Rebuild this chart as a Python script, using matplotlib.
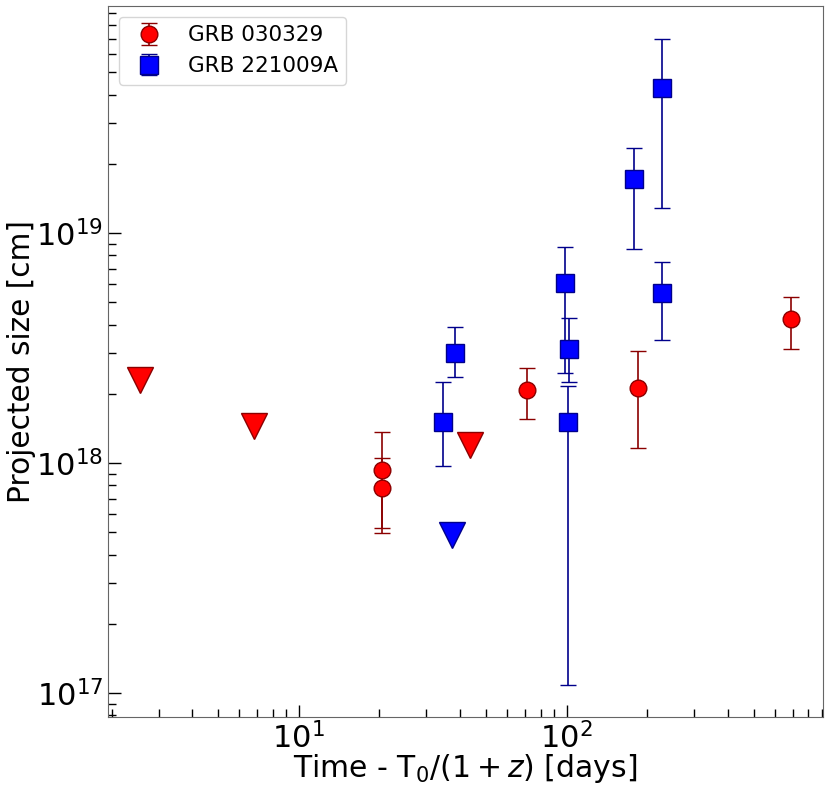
import numpy as np
import matplotlib
matplotlib.use("Agg")
import matplotlib.pyplot as plt

# GRB 030329 measurements (days, cm)
t_030329 = np.array([20.5, 20.5, 71, 185, 690])
r_030329 = np.array([9.3e17, 7.8e17, 2.07e18, 2.11e18, 4.22e18])
lo_030329 = np.array([5.2e17, 4.95e17, 1.55e18, 1.16e18, 3.13e18])
hi_030329 = np.array([1.37e18, 1.05e18, 2.59e18, 3.08e18, 5.28e18])

# GRB 030329 upper limits
t_030329_ul = np.array([2.56, 6.82, 43.6])
r_030329_ul = np.array([2.29e18, 1.445e18, 1.20e18])

# GRB 221009A measurements
t_221009 = np.array([34.6, 38.2, 99, 102.4, 101.6, 178, 228, 228])
r_221009 = np.array([1.51e18, 3.0e18, 6.04e18, 3.12e18, 1.51e18, 1.71e19, 4.26e19, 5.47e18])
lo_221009 = np.array([9.7e17, 2.37e18, 2.47e18, 2.25e18, 1.09e17, 8.55e18, 1.28e19, 3.43e18])
hi_221009 = np.array([2.25e18, 3.9e18, 8.7e18, 4.28e18, 2.16e18, 2.35e19, 7.0e19, 7.5e18])

# GRB 221009A upper limit
t_221009_ul = np.array([37.3])
r_221009_ul = np.array([4.85e17])

fig = plt.figure(figsize=(8.3, 7.89), dpi=100)
ax = fig.add_axes([108/830, 1 - 716.7/789, (822.7 - 108)/830, (716.7 - 6)/789])

ax.errorbar(t_030329, r_030329, yerr=[r_030329 - lo_030329, hi_030329 - r_030329],
            fmt='o', color='red', mec='darkred', mew=1, ms=12, ecolor='darkred',
            elinewidth=1.2, capsize=6, capthick=1.2, label='GRB 030329')
ax.errorbar(t_221009, r_221009, yerr=[r_221009 - lo_221009, hi_221009 - r_221009],
            fmt='s', color='blue', mec='darkblue', mew=1, ms=12.5, ecolor='darkblue',
            elinewidth=1.2, capsize=6, capthick=1.2, label='GRB 221009A')
ax.plot(t_030329_ul, r_030329_ul, 'v', color='red', mec='darkred', mew=1, ms=18.5)
ax.plot(t_221009_ul, r_221009_ul, 'v', color='blue', mec='darkblue', mew=1, ms=18.5)

ax.set_xscale('log')
ax.set_yscale('log')
ax.set_xlim(1.94, 905)
ax.set_ylim(7.9e16, 9.7e19)

ax.set_xlabel(r'Time - T$_0$/$(1+z)$ [days]', fontsize=21.5, labelpad=-1.5)
ax.set_ylabel('Projected size [cm]', fontsize=21.3, labelpad=0)
ax.tick_params(which='both', direction='in', labelsize=22, width=1)
ax.tick_params(which='major', length=9)
ax.tick_params(which='minor', length=5.5)
for s in ax.spines.values():
    s.set_color('0.4')

ax.legend(loc='upper left', fontsize=15.5)

fig.savefig('out.png', dpi=100)
